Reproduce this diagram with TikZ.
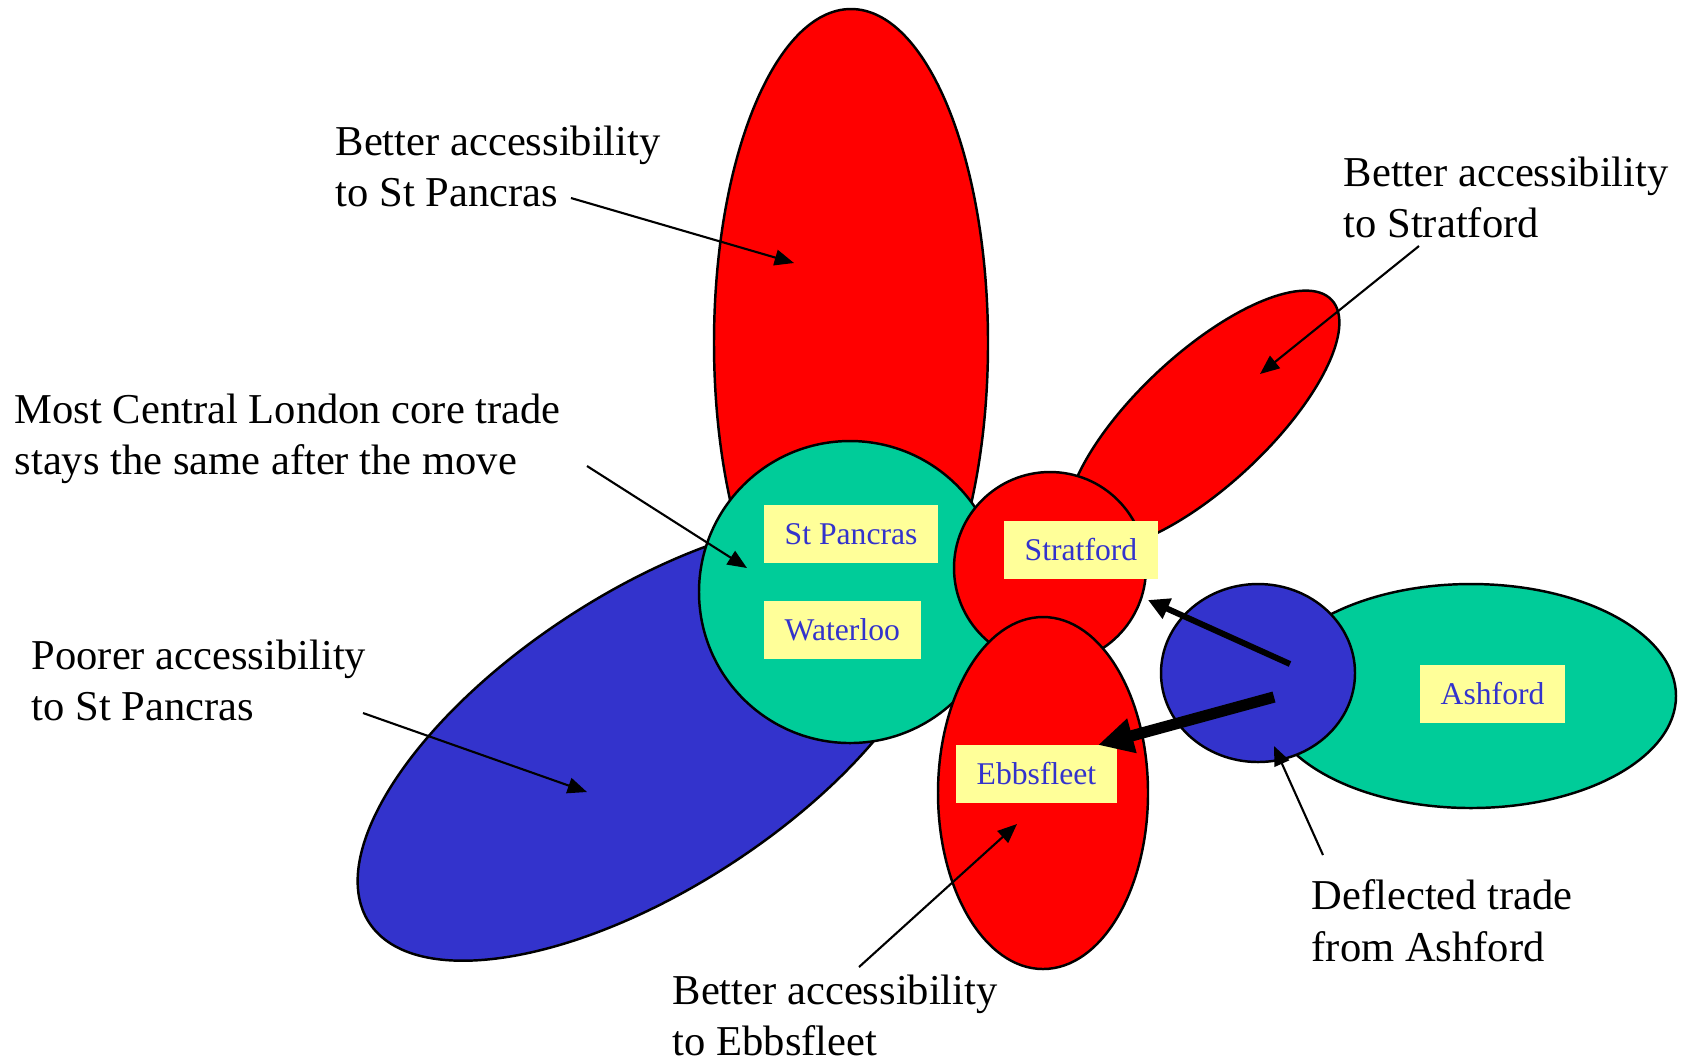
\documentclass[tikz,border=0pt]{standalone}
\usepackage{fontspec}
\setmainfont{Liberation Serif}
\usetikzlibrary{arrows.meta}
\definecolor{lobered}{HTML}{FF0000}
\definecolor{coregreen}{HTML}{00CC99}
\definecolor{poorblue}{HTML}{3333CC}
\definecolor{tagyellow}{HTML}{FFFF99}
\begin{document}
\begin{tikzpicture}[x=0.01cm,y=-0.01cm,
  lobe/.style={draw=black, line width=0.7pt},
  tag/.style={fill=tagyellow, text=poorblue, anchor=west, inner xsep=0.21cm, inner ysep=0pt,
    minimum height=0.58cm, text height=6pt, text depth=0pt, font=\fontsize{9pt}{10pt}\selectfont},
  note/.style={anchor=north west, inner sep=0pt, align=left, font=\fontsize{12.1pt}{14.6pt}\selectfont},
  ptr/.style={line width=0.6pt, -{Triangle[length=5.5pt,width=4.5pt]}}]
\useasboundingbox (0,0) rectangle (1682,1059);
% catchment lobes
\draw[lobe, fill=lobered] (851,343) ellipse [x radius=137, y radius=334];
\draw[lobe, fill=poorblue, rotate around={33:(650,740)}] (650,740) ellipse [x radius=335, y radius=148];
\draw[lobe, fill=coregreen] (850,592) circle [radius=151];
\draw[lobe, fill=lobered, rotate around={43:(1203,420)}] (1203,420) ellipse [x radius=176, y radius=66];
\draw[lobe, fill=lobered] (1050,568) circle [radius=96];
\draw[lobe, fill=lobered] (1043,793) ellipse [x radius=105, y radius=176];
\draw[lobe, fill=coregreen] (1471,696) ellipse [x radius=205, y radius=112];
\draw[lobe, fill=poorblue] (1258,673) ellipse [x radius=97, y radius=89];
% station tags
\node[tag] (spancras) at (763,534) {St Pancras};
\node[tag] (waterloo) at (763,630) {Waterloo};
\node[tag] (stratford) at (1003,550) {Stratford};
\node[tag] (ebbsfleet) at (955,774) {Ebbsfleet};
\node[tag] (ashford) at (1419,694) {Ashford};
% notes
\node[note] (noteSP) at (335,125) {Better accessibility\\to St Pancras};
\node[note] (noteCore) at (14,393) {Most Central London core trade\\stays the same after the move};
\node[note] (noteStr) at (1343,156) {Better accessibility\\to Stratford};
\node[note] (notePoor) at (31,639) {Poorer accessibility\\to St Pancras};
\node[note] (noteDef) at (1311,879) {Deflected trade\\from Ashford};
\node[note] (noteEbb) at (672,974) {Better accessibility\\to Ebbsfleet};
% arrow ends
\coordinate (spFrom) at (571,198);
\coordinate (spTo) at (794,263);
\coordinate (coreFrom) at (587,466);
\coordinate (coreTo) at (747,568);
\coordinate (strFrom) at (1419,246);
\coordinate (strTo) at (1260,374);
\coordinate (poorFrom) at (363,713);
\coordinate (poorTo) at (587,792);
\coordinate (defFrom) at (1323,855);
\coordinate (defTo) at (1274,746);
\coordinate (ebbFrom) at (859,967);
\coordinate (ebbTo) at (1017,824);
\coordinate (ashA) at (1290,664);
\coordinate (ashStr) at (1148,600);
\coordinate (ashB) at (1274,697);
\coordinate (ashEbb) at (1098,745);
\draw[ptr] (spFrom) -- (spTo);
\draw[ptr] (coreFrom) -- (coreTo);
\draw[ptr] (strFrom) -- (strTo);
\draw[ptr] (poorFrom) -- (poorTo);
\draw[ptr] (defFrom) -- (defTo);
\draw[ptr] (ebbFrom) -- (ebbTo);
\draw[line width=1.7pt, -{Triangle[length=6pt,width=6pt]}] (ashA) -- (ashStr);
\draw[line width=3.2pt, -{Triangle[length=10pt,width=9.5pt]}] (ashB) -- (ashEbb);
\end{tikzpicture}
\end{document}
